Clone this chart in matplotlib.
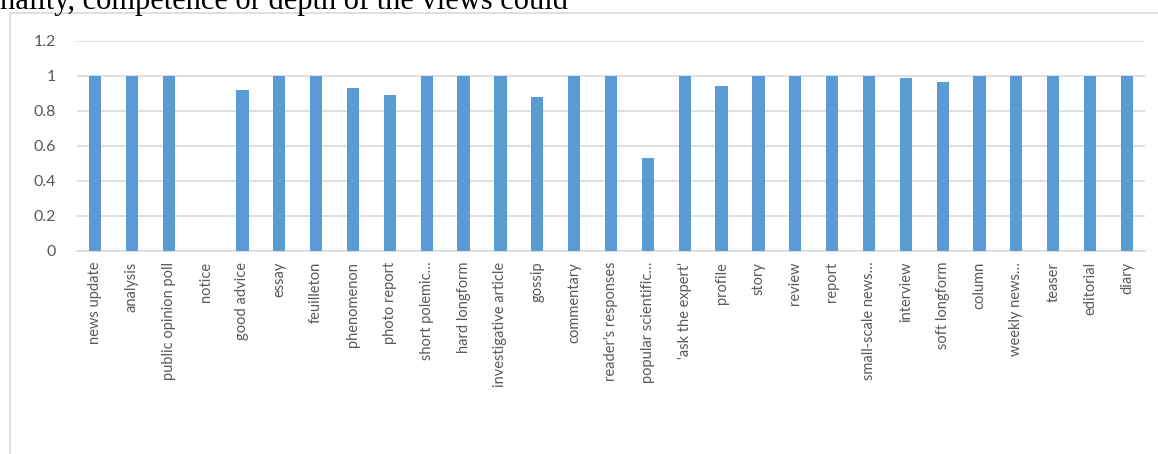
import matplotlib.pyplot as plt
from matplotlib.lines import Line2D

genres = [
    "news update", "analysis", "public opinion poll", "notice", "good advice",
    "essay", "feuilleton", "phenomenon", "photo report", "short polemic\u2026",
    "hard longform", "investigative article", "gossip", "commentary",
    "reader's responses", "popular scientific\u2026", "'ask the expert'",
    "profile", "story", "review", "report", "small-scale news\u2026",
    "interview", "soft longform", "column", "weekly news\u2026", "teaser",
    "editorial", "diary",
]
shares = [
    1, 1, 1, 0, 0.92,
    1, 1, 0.93, 0.89, 1,
    1, 1, 0.88, 1,
    1, 0.53, 1,
    0.94, 1, 1, 1, 1,
    0.985, 0.965, 1, 1, 1,
    1, 1,
]
y_ticks = [0, 0.2, 0.4, 0.6, 0.8, 1, 1.2]
y_tick_labels = ["0", "0.2", "0.4", "0.6", "0.8", "1", "1.2"]

W, H = 1158, 454
fig = plt.figure(figsize=(W / 100, H / 100), dpi=100)

# running text of the page above the chart (cut off at the top)
fig.text(0.0, 1 - 9 / H, "nality, competence or depth of the views could",
         family="Liberation Serif", fontsize=22, color="black",
         ha="left", va="baseline")

# chart frame
fig.add_artist(Line2D([10 / W, 10 / W], [0, 1 - 13 / H], transform=fig.transFigure,
                      color="#d9d9d9", lw=1.2))
fig.add_artist(Line2D([10 / W, 1], [1 - 13 / H, 1 - 13 / H], transform=fig.transFigure,
                      color="#d9d9d9", lw=1.2))

ax = fig.add_axes([76.6 / W, 1 - 250.7 / H, (1145.4 - 76.6) / W, 210 / H])
x = range(len(genres))
ax.bar(x, shares, width=0.33, color="#5b9bd5", zorder=3)

ax.set_xlim(-0.5, len(genres) - 0.5)
ax.set_ylim(0, 1.2)
ax.set_yticks(y_ticks)
ax.set_yticklabels(y_tick_labels)
ax.set_xticks(list(x))
ax.set_xticklabels(genres, rotation=90, ha="center", va="top")

ax.grid(axis="y", color="#d9d9d9", lw=1.2, zorder=0)
for s in ["top", "right", "left"]:
    ax.spines[s].set_visible(False)
ax.spines["bottom"].set_color("#d9d9d9")
ax.spines["bottom"].set_linewidth(1.2)
ax.tick_params(axis="both", length=0, colors="#595959")
ax.tick_params(axis="y", pad=15, labelsize=11.5)
ax.tick_params(axis="x", pad=8, labelsize=10.5)
for lbl in ax.get_xticklabels() + ax.get_yticklabels():
    lbl.set_family("Lato")

fig.savefig("out.png", dpi=100)
